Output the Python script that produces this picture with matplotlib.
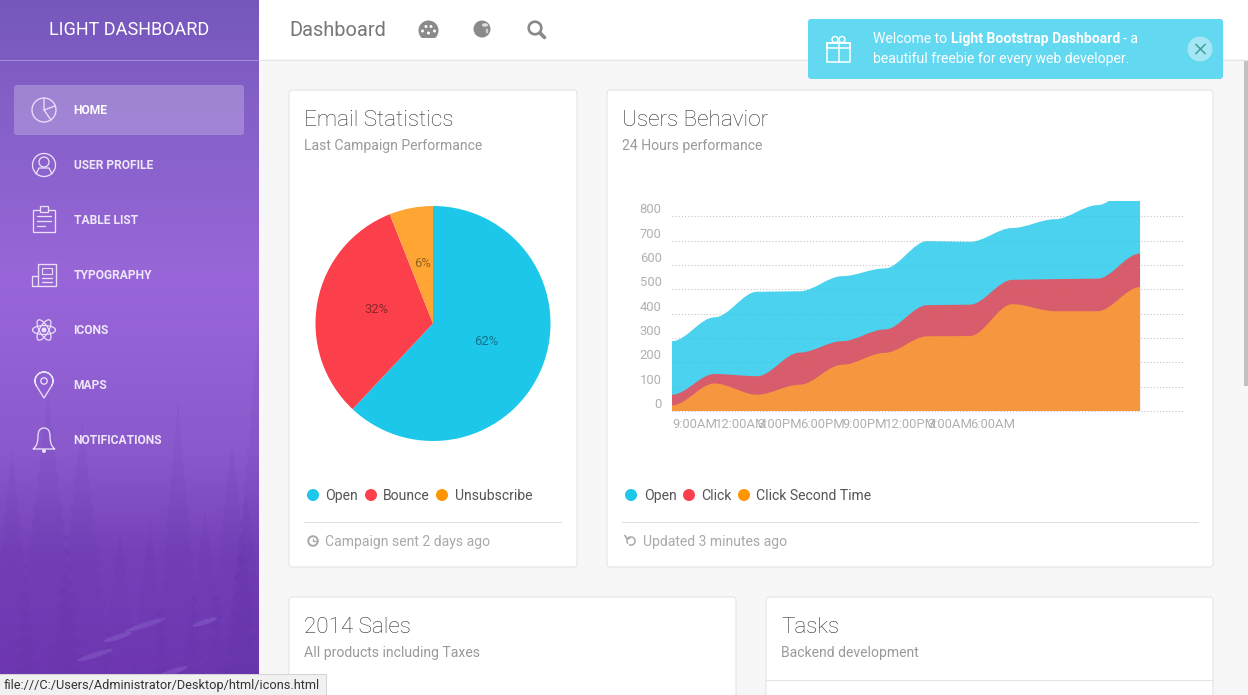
import matplotlib
matplotlib.use('Agg')
import matplotlib.pyplot as plt
import numpy
from matplotlib.colors import LinearSegmentedColormap
from matplotlib.patches import Circle, Ellipse, FancyBboxPatch, PathPatch, Polygon, Rectangle, Wedge
from matplotlib.path import Path

plt.rcParams['font.family'] = ['Roboto', 'DejaVu Sans']

WIDTH, HEIGHT = 1248, 695

pie_labels = ['Open', 'Bounce', 'Unsubscribe']
pie_values = [62, 32, 6]
pie_colors = ['#1DC7EA', '#FB404B', '#FFA534']

hour_labels = ['9:00AM', '12:00AM', '3:00PM', '6:00PM', '9:00PM', '12:00PM', '3:00AM', '6:00AM']
open_series = [287, 385, 490, 492, 554, 586, 698, 695, 752, 788, 846, 944]
click_series = [67, 152, 143, 240, 287, 335, 435, 437, 539, 542, 544, 647]
second_series = [23, 113, 67, 108, 190, 239, 307, 308, 439, 410, 410, 509]
y_ticks = [0, 100, 200, 300, 400, 500, 600, 700, 800]

menu_labels = ['HOME', 'USER PROFILE', 'TABLE LIST', 'TYPOGRAPHY', 'ICONS', 'MAPS', 'NOTIFICATIONS']
menu_rows = [110, 165, 220, 275, 330, 385, 440]

tree_x = [48, 82, 178, 232, 258, 205, 12, 150, 120, 246]
tree_top = [395, 420, 400, 440, 335, 510, 450, 520, 530, 490]
tree_half = [42, 38, 30, 34, 36, 30, 30, 26, 24, 30]
stream_x = [145, 205, 118, 95, 172]
stream_y = [625, 622, 637, 655, 672]
stream_w = [42, 26, 30, 38, 34]

ICON = '#eadff8'


def px_axes(left, top, width, height):
    return figure.add_axes([left / WIDTH, 1 - (top + height) / HEIGHT, width / WIDTH, height / HEIGHT])


def label(x, y, text, size, color, weight='normal', ha='left', alpha=None):
    page.text(x, y, text, fontsize=size * 0.72, color=color, fontweight=weight, ha=ha, va='center', alpha=alpha)


def card(x0, y0, x1, y1):
    page.add_patch(FancyBboxPatch((x0 + 3, y0 + 3), x1 - x0 - 6, y1 - y0 - 6, boxstyle='round,pad=3',
                                  facecolor='white', edgecolor='#e3e3e3', linewidth=0.75))


def ring(x, y, r, color=ICON, lw=0.95):
    page.add_patch(Circle((x, y), r, fill=False, edgecolor=color, linewidth=lw))


def stroke(xs, ys, color=ICON, lw=0.95):
    page.plot(xs, ys, color=color, linewidth=lw, solid_capstyle='round')


def smooth_area(values):
    # flat handles on both sides of each point, a third of a step long
    verts = [(0, 0), (0, values[0])]
    codes = [Path.MOVETO, Path.LINETO]
    for i in range(1, len(values)):
        verts += [(i - 1 + 1 / 3, values[i - 1]), (i - 1 / 3, values[i]), (i, values[i])]
        codes += [Path.CURVE4, Path.CURVE4, Path.CURVE4]
    verts += [(len(values) - 1, 0), (0, 0)]
    codes += [Path.LINETO, Path.CLOSEPOLY]
    return Path(verts, codes)


figure = plt.figure(figsize=(WIDTH / 100, HEIGHT / 100), dpi=100, facecolor='#F7F7F7')
page = figure.add_axes([0, 0, 1, 1])
page.axis('off')

# Sidebar background
sidebar_map = LinearSegmentedColormap.from_list('sidebar', [
    (0.0, '#7557bc'), (0.15, '#8460c8'), (0.4, '#9866d8'), (0.65, '#8a5acc'), (0.8, '#7540b8'), (1.0, '#7038b4')])
page.imshow(numpy.linspace(0, 1, 256).reshape(-1, 1), cmap=sidebar_map, extent=(0, 259, HEIGHT, 0),
            aspect='auto', zorder=0)
sidebar_clip = Rectangle((0, 0), 259, HEIGHT, transform=page.transData)
for x, top, half in zip(tree_x, tree_top, tree_half):
    steps = numpy.arange(1, 41)
    ys = top + (HEIGHT - top) * steps / 40
    widths = half * steps / 40 * numpy.where(steps % 2, 1.0, 0.7)
    outline = [(x, top)] + [(x + w, y) for w, y in zip(widths, ys)] + [(x - w, y) for w, y in zip(widths[::-1], ys[::-1])]
    tree = Polygon(outline, closed=True, facecolor='#4a2a90', edgecolor='none', alpha=0.07, zorder=0.5)
    page.add_patch(tree)
    tree.set_clip_path(sidebar_clip)
for x, y, w in zip(stream_x, stream_y, stream_w):
    page.add_patch(Ellipse((x, y), w, 5, angle=-18, facecolor='#9a78d4', edgecolor='none', alpha=0.3, zorder=0.6))

page.plot([0, 259], [59.5, 59.5], color='white', alpha=0.3, linewidth=0.72)
label(129, 30, 'LIGHT DASHBOARD', 18, 'white', ha='center')
page.add_patch(FancyBboxPatch((17, 88), 224, 44, boxstyle='round,pad=3', facecolor='white', edgecolor='none', alpha=0.23))
for name, row in zip(menu_labels, menu_rows):
    label(73.5, row + 0.5, name, 12, 'white', weight='bold', alpha=1 if name == 'HOME' else 0.85)

# Sidebar icons, line by line
ring(44, 110, 12)
stroke([44, 44, 55], [98, 110, 106])
stroke([44, 51], [110, 120])
ring(44, 165, 11.5)
ring(44, 162, 5)
stroke([36, 39, 49, 52], [174, 168, 168, 174])
page.add_patch(Rectangle((33, 210), 22, 22, fill=False, edgecolor=ICON, linewidth=0.95))
page.add_patch(Rectangle((40, 206), 8, 6, facecolor='#8f65d0', edgecolor=ICON, linewidth=0.95))
for y in [216, 221, 226]:
    stroke([37, 51 if y < 226 else 45], [y, y])
page.add_patch(Rectangle((38, 264), 18, 22, fill=False, edgecolor=ICON, linewidth=0.95))
page.add_patch(Rectangle((42, 268), 10, 6, fill=False, edgecolor=ICON, linewidth=0.8))
stroke([42, 52], [278, 278])
stroke([42, 52], [282, 282])
stroke([38, 32, 32, 38], [276, 276, 286, 286])
for angle in [0, 60, 120]:
    page.add_patch(Ellipse((44, 330), 23, 9, angle=angle, fill=False, edgecolor=ICON, linewidth=0.9))
page.add_patch(Circle((44, 330), 2.5, facecolor=ICON, edgecolor='none'))
page.add_patch(Wedge((44, 381), 9, 150, 30, width=0.01, facecolor=ICON, edgecolor=ICON, linewidth=0.95))
stroke([36.2, 44, 51.8], [385.5, 398, 385.5])
ring(44, 381, 3.2)
page.add_patch(PathPatch(Path([(33, 449), (38, 446), (38, 436), (38, 428), (44, 428), (50, 428), (50, 436), (50, 446), (55, 449), (33, 449)],
                              [Path.MOVETO, Path.CURVE3, Path.CURVE3, Path.CURVE3, Path.CURVE3, Path.CURVE3, Path.CURVE3, Path.CURVE3, Path.CURVE3, Path.CLOSEPOLY]),
                         fill=False, edgecolor=ICON, linewidth=0.95))
page.add_patch(Circle((44, 451), 2, facecolor=ICON, edgecolor='none'))

# Navbar
page.add_patch(Rectangle((259, 0), WIDTH - 259, 59, facecolor='white', edgecolor='none'))
page.plot([259, WIDTH], [59.5, 59.5], color='#e6e6e6', linewidth=0.72)
label(289, 30, 'Dashboard', 20, '#777777')
page.add_patch(Circle((428.5, 30.5), 10, facecolor='#8a8a8a', edgecolor='none'))
page.add_patch(Rectangle((417, 37.5), 23, 5, facecolor='white', edgecolor='none'))
for x, y in [(422.5, 31), (426, 26.5), (431, 26.5), (434.5, 31), (428.5, 33)]:
    page.add_patch(Circle((x, y), 1.5, facecolor='white', edgecolor='none'))
page.add_patch(Circle((482, 29), 8.5, facecolor='#8a8a8a', edgecolor='none'))
page.add_patch(Ellipse((485, 25), 6, 3.5, facecolor='white', edgecolor='none', alpha=0.75))
page.add_patch(Ellipse((487, 31), 2.5, 5, facecolor='white', edgecolor='none', alpha=0.6))
ring(535, 28, 6.3, color='#8a8a8a', lw=1.9)
stroke([540, 544.5], [33, 37.5], color='#8a8a8a', lw=2.6)

# Notification
page.add_patch(FancyBboxPatch((811, 22), 409, 54, boxstyle='round,pad=3', facecolor='#63D8F1', edgecolor='none', zorder=3))
page.add_patch(Rectangle((827, 43), 23, 19, fill=False, edgecolor='white', linewidth=1.1, zorder=4))
page.add_patch(Rectangle((827, 43), 23, 5, fill=False, edgecolor='white', linewidth=1.1, zorder=4))
page.plot([838.5, 838.5], [43, 62], color='white', linewidth=1.1, zorder=4)
page.add_patch(Circle((835, 39.5), 3, fill=False, edgecolor='white', linewidth=1, zorder=4))
page.add_patch(Circle((842, 39.5), 3, fill=False, edgecolor='white', linewidth=1, zorder=4))
for x, text, weight in [(873, 'Welcome to', 'normal'), (951, 'Light Bootstrap Dashboard', 'bold'), (1123, '- a', 'normal')]:
    page.text(x, 39, text, fontsize=10.1, color='white', fontweight=weight, va='center', zorder=4)
page.text(873, 59, 'beautiful freebie for every web developer.', fontsize=10.1, color='white', va='center', zorder=4)
page.add_patch(Circle((1200, 49), 12.5, facecolor='#a5e6f4', edgecolor='none', zorder=4))
page.plot([1196, 1205], [44.5, 53.5], color='#3f9f9f', linewidth=1.1, zorder=5)
page.plot([1196, 1205], [53.5, 44.5], color='#3f9f9f', linewidth=1.1, zorder=5)

# Cards
card(289, 90, 577, 567)
card(607, 90, 1213, 567)
card(289, 597, 736, 720)
card(766, 597, 1213, 720)
for x, y, title, sub in [(304, 119, 'Email Statistics', 'Last Campaign Performance'),
                         (622, 119, 'Users Behavior', '24 Hours performance'),
                         (304, 626, '2014 Sales', 'All products including Taxes'),
                         (781, 626, 'Tasks', 'Backend development')]:
    page.text(x, y + 1.5, title, fontsize=16.2, color='#333333', fontweight='light', va='center')
    label(x, y + 27, sub, 14, '#9A9A9A')
page.plot([766, 1213], [679.5, 679.5], color='#e3e3e3', linewidth=0.72)

# Legends and footers
legend_rows = [(313, 325, 'Open', pie_colors[0]), (371, 383, 'Bounce', pie_colors[1]), (442, 455, 'Unsubscribe', pie_colors[2]),
               (631, 644, 'Open', pie_colors[0]), (689, 701, 'Click', pie_colors[1]), (744, 756, 'Click Second Time', pie_colors[2])]
for dot_x, text_x, text, color in legend_rows:
    page.add_patch(Circle((dot_x, 495), 6, facecolor='#FF9500' if color == '#FFA534' else color, edgecolor='none'))
    label(text_x, 496, text, 14, '#555555')
page.plot([304, 561], [521.5, 521.5], color='#dddddd', linewidth=0.72)
page.plot([622, 1198], [521.5, 521.5], color='#dddddd', linewidth=0.72)
label(325, 542, 'Campaign sent 2 days ago', 14, '#a9a9a9')
label(643, 542, 'Updated 3 minutes ago', 14, '#a9a9a9')
ring(313, 541, 4.8, color='#a9a9a9', lw=1.4)
stroke([313, 313, 315.5], [538.5, 541, 541], color='#a9a9a9', lw=1)
page.add_patch(Wedge((631, 541), 4.8, -220, 120, width=1.5, facecolor='#a9a9a9', edgecolor='none'))
stroke([625, 627, 630], [535.5, 539, 538], color='#a9a9a9', lw=1.2)

# Status bar and scrollbar
page.add_patch(Rectangle((-2, 674), 328, 24, facecolor='#f1f1f1', edgecolor='#d4d4d4', linewidth=0.75, zorder=6))
page.text(4, 685, 'file:///C:/Users/Administrator/Desktop/html/icons.html', fontsize=9.18, color='#333333', va='center', zorder=7)
page.add_patch(Rectangle((1244, 60), 4, 326, facecolor='#c1c1c1', edgecolor='none'))

page.set_xlim(0, WIDTH)
page.set_ylim(HEIGHT, 0)

# Pie --> campaign share
plot = px_axes(315.5, 206, 235, 235)
wedges, texts, autotexts = plot.pie(pie_values, colors=pie_colors, startangle=90, counterclock=False, radius=1,
                                    autopct='%d%%', pctdistance=0.49, textprops=dict(fontsize=9.4, color='black', alpha=0.42))
plot.set_xlim(-1, 1)
plot.set_ylim(-1, 1)
plot.patch.set_alpha(0)
for percent in autotexts:
    percent.set_y(percent.get_position()[1] + 0.03)

# Area --> hourly behavior
plot = px_axes(672, 201, 510.6, 210)
plot.patch.set_alpha(0)
plot.set_xlim(0, 12)
plot.set_ylim(0, 863)
plot.set_yticks(y_ticks)
plot.set_xticks(numpy.arange(len(hour_labels)))
plot.set_xticklabels(hour_labels, ha='left')
plot.tick_params(length=0, labelsize=9.4, labelcolor='#b0b0b0', pad=5)
plot.tick_params(axis='y', pad=7.5)
for tick in plot.get_yticklabels():
    tick.set_va('bottom')  # labels sit above their own grid line
plot.grid(axis='y', color='#c0c0c0', linestyle=(0, (1, 2)), linewidth=0.75)
plot.set_axisbelow(True)
for line in plot.get_ygridlines():
    line.set_clip_on(False)
for side in plot.spines.values():
    side.set_visible(False)
for values, color in [(open_series, '#1DC7EA'), (click_series, '#FB404B'), (second_series, '#FFA534')]:
    plot.add_patch(PathPatch(smooth_area(values), facecolor=color, edgecolor='none', alpha=0.8))

figure.savefig('out.png', dpi=100)
